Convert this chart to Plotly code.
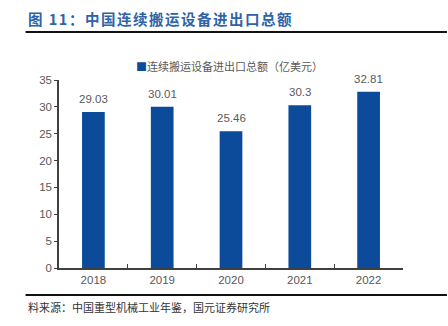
import plotly.graph_objects as go

years = ["2018", "2019", "2020", "2021", "2022"]
values = [29.03, 30.01, 25.46, 30.3, 32.81]
value_labels = ["29.03", "30.01", "25.46", "30.3", "32.81"]
y_ticks = [0, 5, 10, 15, 20, 25, 30, 35]

BLUE = "#0C4A9A"
GRAY = "#595959"
FONT = "Liberation Sans, Noto Sans CJK SC, sans-serif"
CJK = "Noto Sans CJK SC, sans-serif"

fig = go.Figure()
fig.add_trace(go.Bar(
    x=years, y=values,
    marker=dict(color=BLUE, line=dict(width=0)),
    width=0.33, showlegend=False,
))
for i, (yv, lab) in enumerate(zip(values, value_labels)):
    fig.add_annotation(x=i, y=yv, xref="x", yref="y", text=lab, showarrow=False,
                       xanchor="center", yanchor="bottom", yshift=5,
                       font=dict(size=11.5, color=GRAY, family=FONT))

W, H = 448, 326
L, R, T, B = 58.5, 45, 80, 58
PW, PH = W - L - R, H - T - B

fig.update_layout(
    width=W, height=H,
    margin=dict(l=L, r=R, t=T, b=B, pad=0),
    paper_bgcolor="white", plot_bgcolor="white",
    font=dict(family=FONT, color=GRAY, size=11),
    xaxis=dict(
        type="category", showgrid=False, showline=True, linecolor="#404040", linewidth=1.5,
        ticks="inside", tickson="boundaries", ticklen=4, tickcolor="#404040",
        tickfont=dict(size=11.5, color=GRAY), range=[-0.5, 4.5],
    ),
    yaxis=dict(
        range=[0, 35], tickvals=y_ticks, showgrid=False, zeroline=False,
        showline=True, linecolor="#404040", linewidth=1.5,
        ticks="outside", ticklen=3, tickcolor="#404040",
        tickfont=dict(size=11.5, color=GRAY),
    ),
)

def fx(p):
    return (p - L) / PW

def fy(p):
    return (H - B - p) / PH

# Title
fig.add_annotation(
    xref="paper", yref="paper", x=fx(25), y=fy(18),
    xanchor="left", yanchor="middle", showarrow=False,
    text="<span style='letter-spacing:1.5px'><b>图 11：中国连续搬运设备进出口总额</b></span>",
    font=dict(size=14.5, color="#2E63A8", family=CJK),
)
# Legend-like annotation
fig.add_annotation(
    xref="paper", yref="paper", x=fx(229), y=fy(66),
    xanchor="center", yanchor="middle", showarrow=False,
    text="<span style='color:%s'>■</span>连续搬运设备进出口总额（亿美元）" % BLUE,
    font=dict(size=11, color=GRAY, family=CJK),
)
# Source
fig.add_annotation(
    xref="paper", yref="paper", x=fx(25), y=fy(307),
    xanchor="left", yanchor="middle", showarrow=False,
    text="料来源：中国重型机械工业年鉴，国元证券研究所",
    font=dict(size=11, color="#333333", family=CJK),
)

# Rules
for yy in (32, 295):
    fig.add_shape(type="line", xref="paper", yref="paper",
                  x0=fx(25), x1=fx(447), y0=fy(yy), y1=fy(yy),
                  line=dict(color="#111111", width=2))

fig.write_html("out.html")
